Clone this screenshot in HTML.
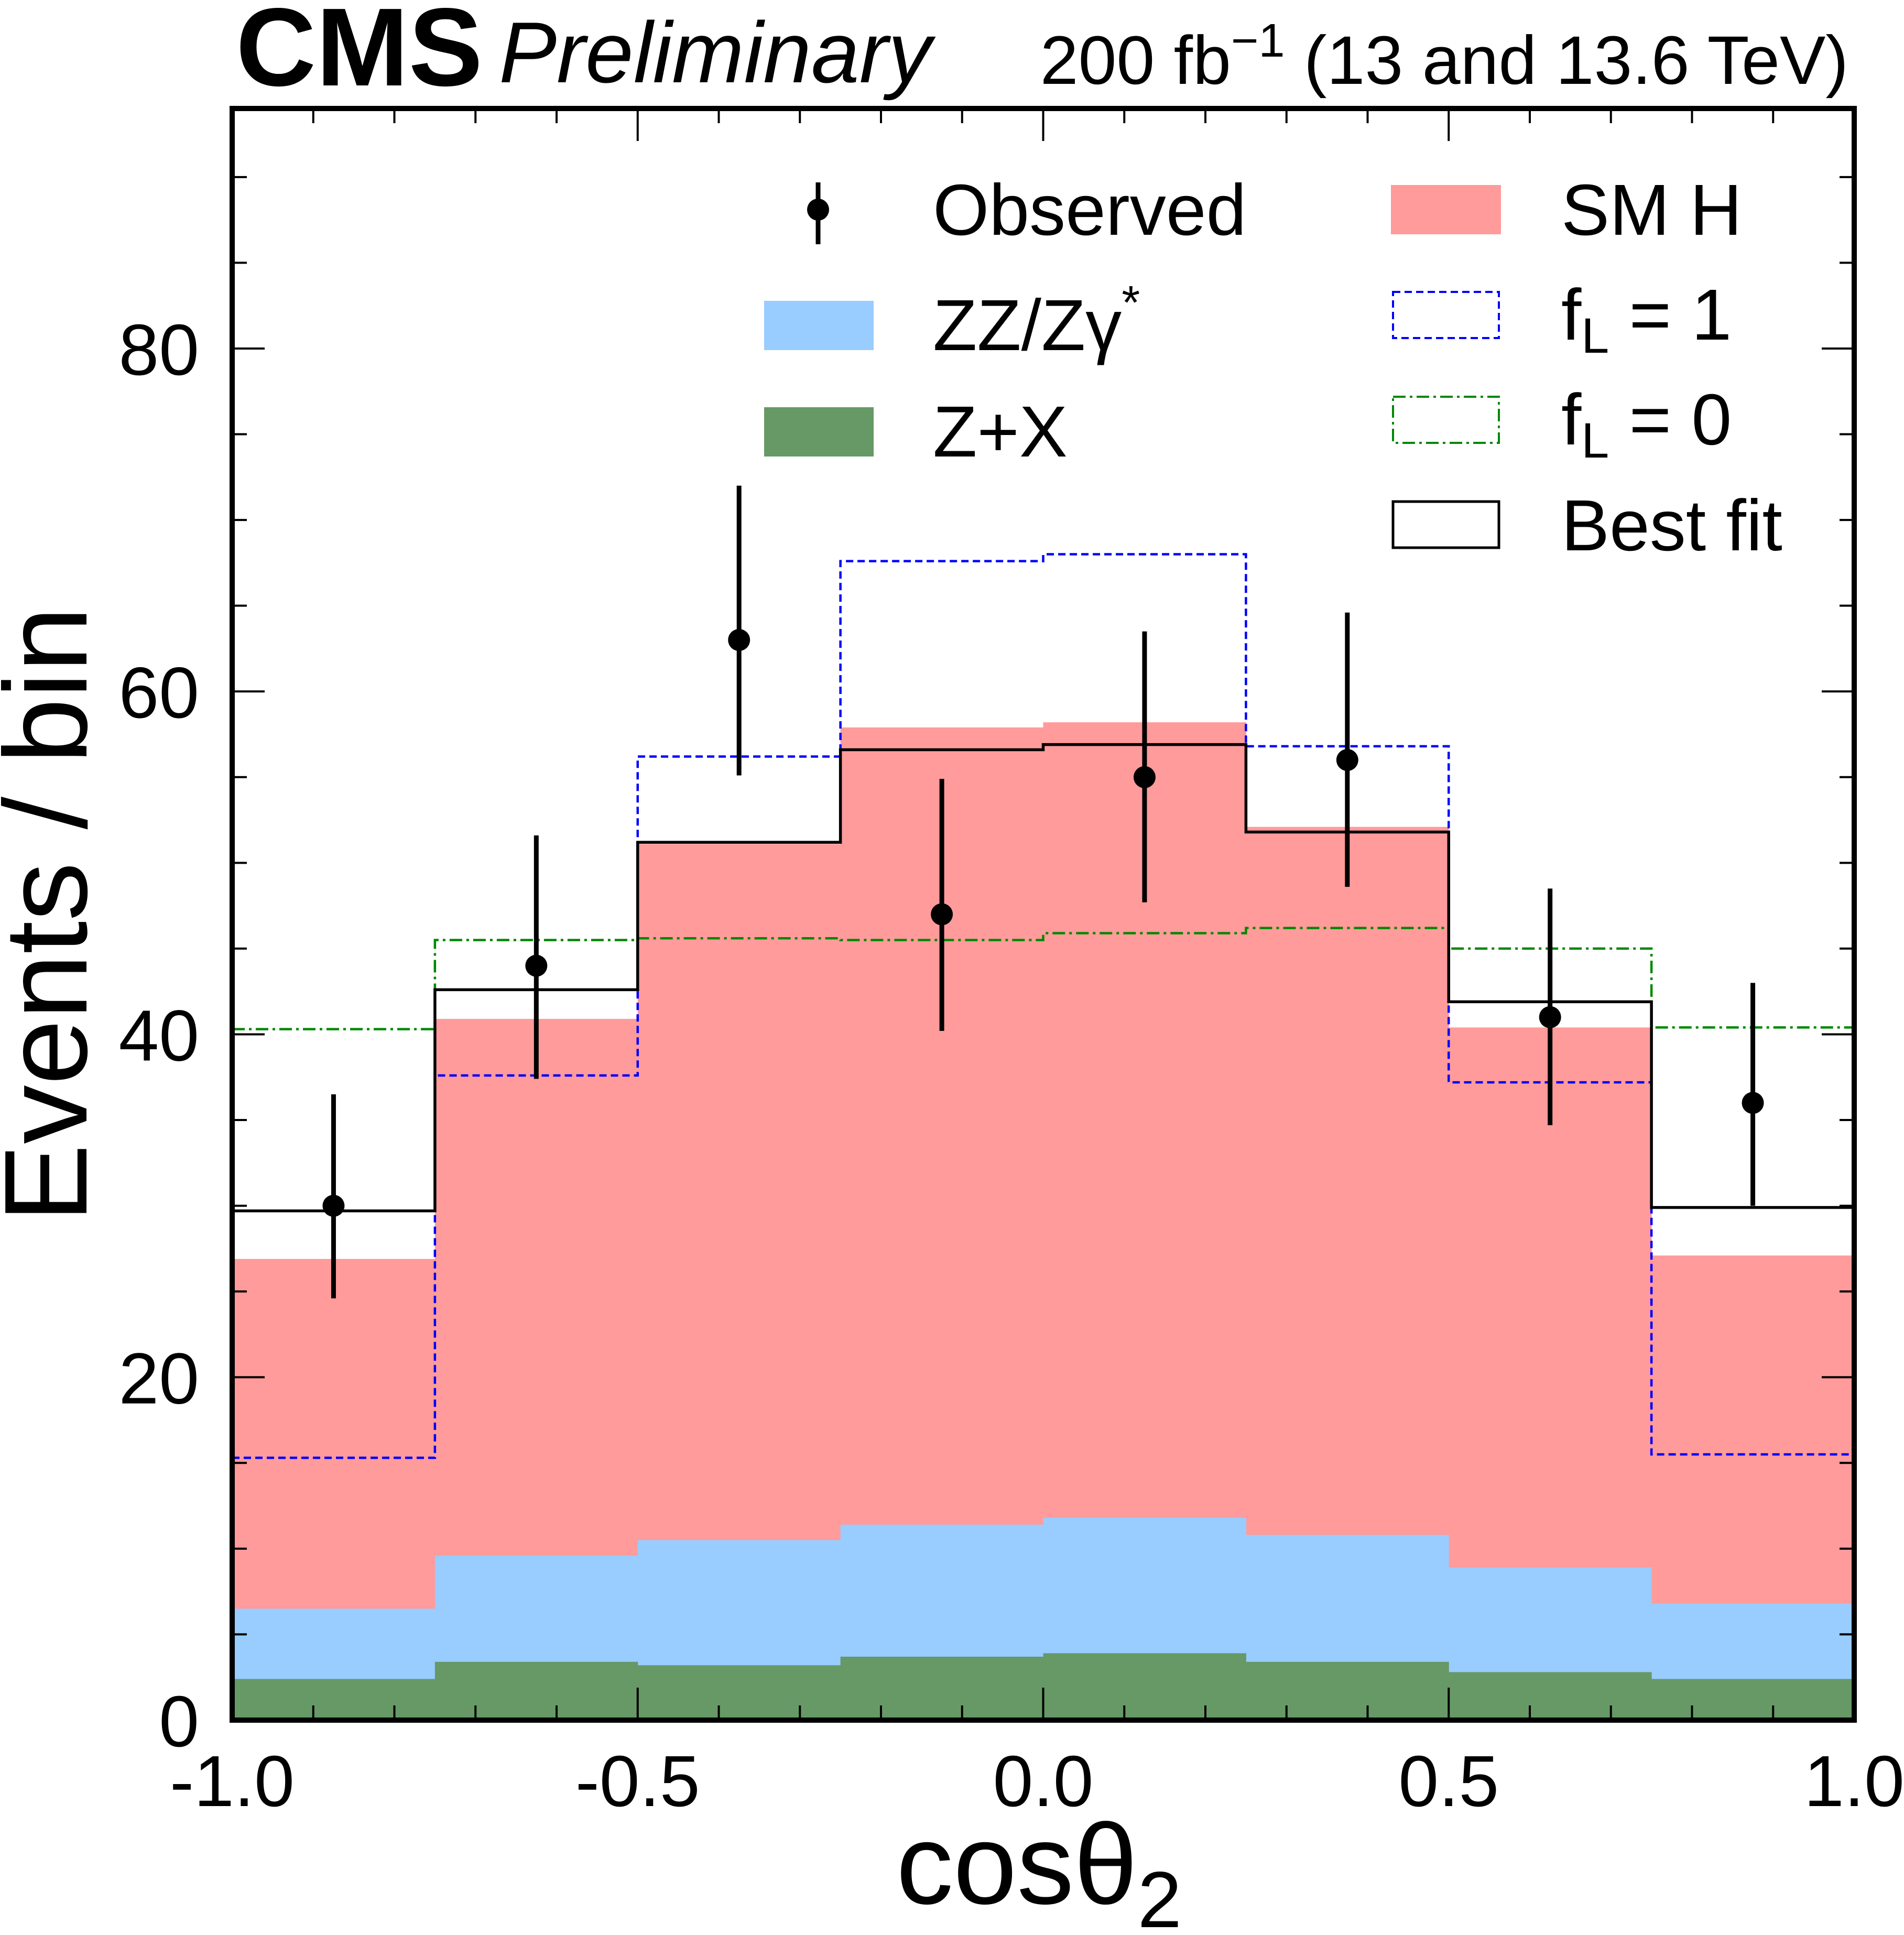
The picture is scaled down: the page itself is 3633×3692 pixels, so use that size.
<!DOCTYPE html>
<html><head><meta charset="utf-8"><style>
html,body{margin:0;padding:0;background:#fff}
svg{display:block}
text{font-family:"Liberation Sans",sans-serif;fill:#000}
</style></head><body>
<svg id="chart" xmlns="http://www.w3.org/2000/svg" width="3633" height="3692" viewBox="0 0 3633 3692">
<g id="marks"></g>
<g id="axes"></g>
<text x="450" y="163" font-size="212" font-weight="bold">CMS</text>
<text x="952" y="157" font-size="165" font-style="italic">Preliminary</text>
<text x="3527" y="160" font-size="131" text-anchor="end">200 fb<tspan dy="-52" font-size="90">−1</tspan><tspan dy="52"> (13 and 13.6 TeV)</tspan></text>
<text transform="translate(165,1745) rotate(-90)" font-size="225" text-anchor="middle">Events / bin</text>
<text x="1710" y="3632" font-size="218">cosθ<tspan dy="45" font-size="152">2</tspan></text>
<g>
  <line x1="1561" y1="348" x2="1561" y2="466" stroke="#000" stroke-width="9"/>
  <circle cx="1561" cy="400" r="21" fill="#000"/>
  <text x="1780" y="448" font-size="138">Observed</text>
  <rect x="1458" y="574" width="209" height="94" fill="#99ccff"/>
  <text x="1780" y="668" font-size="138">ZZ/Zγ<tspan dy="-60" font-size="90">*</tspan></text>
  <rect x="1458" y="777" width="209" height="94" fill="#669966"/>
  <text x="1780" y="871" font-size="138">Z+X</text>
  <rect x="2654" y="353" width="210" height="94" fill="#ff9b9b"/>
  <text x="2979" y="448" font-size="138">SM H</text>
  <rect x="2658" y="557" width="202" height="88" fill="none" stroke="#0000ff" stroke-width="4" stroke-dasharray="14,8"/>
  <text x="2979" y="648" font-size="138">f<tspan dy="25" font-size="95">L</tspan><tspan dy="-25"> = 1</tspan></text>
  <rect x="2658" y="757" width="202" height="88" fill="none" stroke="#008800" stroke-width="4" stroke-dasharray="24,8,5,8"/>
  <text x="2979" y="848" font-size="138">f<tspan dy="25" font-size="95">L</tspan><tspan dy="-25"> = 0</tspan></text>
  <rect x="2658" y="957" width="202" height="88" fill="none" stroke="#000" stroke-width="5"/>
  <text x="2979" y="1050" font-size="138">Best fit</text>
</g>
</svg>
<script>
const binEdges = [-1.0,-0.75,-0.5,-0.25,0.0,0.25,0.5,0.75,1.0];
const zxStack = [2.4,3.4,3.2,3.7,3.9,3.4,2.8,2.4];
const zzStack = [6.5,9.6,10.5,11.4,11.8,10.8,8.9,6.8];
const smhStack = [26.9,40.9,51.1,57.9,58.2,52.1,40.4,27.1];
const bestFit = [29.7,42.6,51.2,56.6,56.9,51.8,41.9,29.9];
const fL1 = [15.3,37.6,56.2,67.6,68.0,56.8,37.2,15.5];
const fL0 = [40.3,45.5,45.6,45.5,45.9,46.2,45.0,40.4];
const observed = [30,44,63,47,55,56,41,36];
const errUp = [6.5,7.6,9.0,7.9,8.5,8.6,7.5,7.0];
const errDown = [5.4,6.6,7.9,6.8,7.3,7.4,6.3,6.0];
const xTicks = ["-1.0","-0.5","0.0","0.5","1.0"];
const yTicks = ["0","20","40","60","80"];

const L=443,R=3538,T=207,B=3282,XMIN=-1,XMAX=1,YMAX=94;
const sx=v=>L+(v-XMIN)/(XMAX-XMIN)*(R-L);
const sy=v=>B-v/YMAX*(B-T);
const NS="http://www.w3.org/2000/svg";
const marks=document.getElementById('marks'), axes=document.getElementById('axes');
function mk(tag,attrs,parent){const e=document.createElementNS(NS,tag);for(const k in attrs)e.setAttribute(k,attrs[k]);parent.appendChild(e);return e;}

function fillHist(vals,color,name){
  vals.forEach((v,i)=>{
    const x0=sx(binEdges[i]),x1=sx(binEdges[i+1]);
    const r=mk('rect',{x:x0,y:sy(v),width:x1-x0+0.5,height:B-sy(v),fill:color},marks);
    
    
  });
}
fillHist(smhStack,'#ff9b9b','smh');
fillHist(zzStack,'#99ccff','zz');
fillHist(zxStack,'#669966','zx');

function stepPath(vals){
  let d='';
  vals.forEach((v,i)=>{
    const x0=sx(binEdges[i]),x1=sx(binEdges[i+1]),y=sy(v);
    d+=(i===0?'M'+x0+','+y:'L'+x0+','+y)+' L'+x1+','+y+' ';
  });
  return d;
}
let p;
p=mk('path',{d:stepPath(fL0),fill:'none',stroke:'#008800','stroke-width':4.5,'stroke-dasharray':'24,8,5,8'},marks);


p=mk('path',{d:stepPath(fL1),fill:'none',stroke:'#0000ff','stroke-width':4.5,'stroke-dasharray':'14,8'},marks);


p=mk('path',{d:stepPath(bestFit),fill:'none',stroke:'#000','stroke-width':5.5},marks);



observed.forEach((v,i)=>{
  const cx=sx((binEdges[i]+binEdges[i+1])/2);
  const g=mk('g',{},marks);
  
  
  mk('line',{x1:cx,x2:cx,y1:sy(v+errUp[i]),y2:sy(v-errDown[i]),stroke:'#000','stroke-width':9},g);
  mk('circle',{cx:cx,cy:sy(v),r:21,fill:'#000'},g);
});

for(let v=0;v<=YMAX;v+=5){
  const y=sy(v),len=(v%20===0)?62:28;
  mk('line',{x1:L,x2:L+len,y1:y,y2:y,stroke:'#000','stroke-width':4},axes);
  mk('line',{x1:R,x2:R-len,y1:y,y2:y,stroke:'#000','stroke-width':4},axes);
}
for(let k=0;k<=20;k++){
  const v=-1+k*0.1,x=sx(v),len=(k%5===0)?62:28;
  mk('line',{x1:x,x2:x,y1:B,y2:B-len,stroke:'#000','stroke-width':4},axes);
  mk('line',{x1:x,x2:x,y1:T,y2:T+len,stroke:'#000','stroke-width':4},axes);
}
yTicks.forEach(t=>{
  const e=mk('text',{x:380,y:sy(+t)+50,'font-size':138,'text-anchor':'end'},axes);
  e.textContent=t;
  
  
});
xTicks.forEach(t=>{
  const e=mk('text',{x:sx(+t),y:3446,'font-size':138,'text-anchor':'middle'},axes);
  e.textContent=t;
  
  
});
const fr=mk('rect',{x:L,y:T,width:R-L,height:B-T,fill:'none',stroke:'#000','stroke-width':10},axes);


</script>
</body></html>
